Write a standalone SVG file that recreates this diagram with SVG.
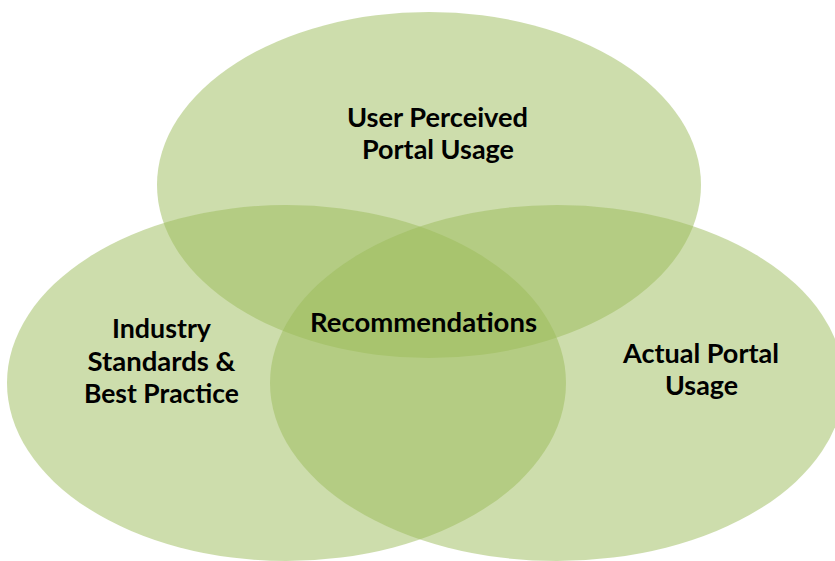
<svg xmlns="http://www.w3.org/2000/svg" width="835" height="561" viewBox="0 0 835 561">
<style>
.c{fill:#9bbb59;fill-opacity:0.5;stroke:none}
.t{font-family:Lato,"Liberation Sans",sans-serif;font-weight:bold;font-size:26px;fill:#000;text-anchor:middle}
</style>
<rect width="835" height="561" fill="#ffffff"/>
<g id="user-perceived">
<ellipse class="c" cx="429" cy="185" rx="272" ry="173"/>
<text class="t" x="437.5" y="127" textLength="181" lengthAdjust="spacingAndGlyphs">User Perceived</text>
<text class="t" x="438" y="159" textLength="152" lengthAdjust="spacingAndGlyphs">Portal Usage</text>
</g>
<g id="industry">
<ellipse class="c" cx="286.5" cy="383" rx="279.5" ry="178"/>
<text class="t" x="161.5" y="338" textLength="99" lengthAdjust="spacingAndGlyphs">Industry</text>
<text class="t" x="161.5" y="371" textLength="148" lengthAdjust="spacingAndGlyphs">Standards &amp;</text>
<text class="t" x="161.5" y="403" textLength="155" lengthAdjust="spacingAndGlyphs">Best Practice</text>
</g>
<g id="actual">
<ellipse class="c" cx="557" cy="383" rx="287" ry="178"/>
<text class="t" x="701" y="363" textLength="156" lengthAdjust="spacingAndGlyphs">Actual Portal</text>
<text class="t" x="701.5" y="395" textLength="73" lengthAdjust="spacingAndGlyphs">Usage</text>
</g>
<g id="recommendations">
<text class="t" x="423.5" y="332" textLength="227" lengthAdjust="spacingAndGlyphs">Recommendations</text>
</g>
<g id="connectors"/>
</svg>
